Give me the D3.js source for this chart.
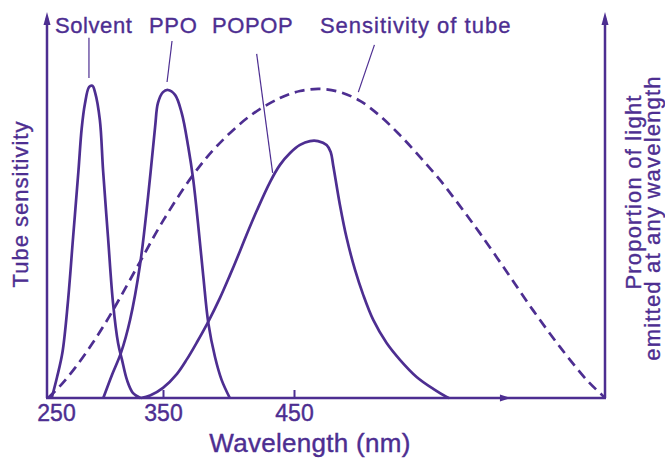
<!DOCTYPE html>
<html>
<head>
<meta charset="utf-8">
<script src="https://cdn.jsdelivr.net/npm/d3@7"></script>
<style>
  html, body { margin: 0; padding: 0; background: #fff; }
  svg { display: block; }
  text { font-family: "Liberation Sans", Arial, Helvetica, sans-serif; }
</style>
</head>
<body>
<svg id="chart"></svg>
<script>
// emission spectra: [wavelength nm, relative intensity]
const solvent = [[246, 0], [251, 6], [256, 13], [261, 27], [266, 46], [271, 65], [274, 77], [277, 84],
  [281, 88.9], [284, 89.2], [286.5, 87.3], [291, 79.4], [294, 65], [298.6, 46], [303.3, 27.1], [308, 15.7],
  [311.7, 10.9], [316.4, 5.1], [322, 1.4], [329, 0]];

const ppo = [[294.2, 0], [302.3, 6.6], [310.7, 12.9], [319.2, 22.3], [328.5, 38], [336, 57.4], [342.6, 77.4],
  [345.3, 84.3], [350, 87.4], [353.8, 88], [359.2, 86.6], [364.3, 81.4], [369.3, 71.7], [373.1, 62.3],
  [377, 48.9], [380.8, 34.6], [384.6, 21.4], [389.7, 11.7], [394.8, 5.1], [401, 0]];

const popop = [[329.4, 0], [337.9, 0.7], [350, 2.9], [360.7, 6.9], [368.3, 11.1], [376, 16], [384.4, 21.7],
  [393.5, 28.6], [401.1, 35.1], [408.8, 42], [414.1, 46.9], [421.8, 53.7], [431.7, 61.7], [439.3, 66.6],
  [447, 70], [454.6, 72.3], [462.2, 73.4], [468.3, 73.4], [474.9, 72.3], [478, 70.3], [480, 66.3],
  [485.1, 55.1], [490.2, 45.7], [496.6, 36.6], [502.9, 29.4], [510.5, 22.3], [520.7, 15.7], [530.9, 10.9],
  [543.6, 6], [556.3, 2.6], [566.5, 0.3], [568.3, 0]];

// spectral sensitivity of the photomultiplier tube (dashed)
const tube = [[242.5, 0], [253.7, 3.4], [267.8, 8.6], [283.6, 15.4], [296.7, 21.7], [309.8, 28.6],
  [328.5, 38.9], [350, 50.6], [372.9, 63.7], [391.2, 72], [416.4, 80.6], [439.3, 85.7], [454.6, 87.7],
  [469.8, 88.3], [485.1, 87.4], [500.4, 84.9], [515.6, 80.6], [530.9, 75.1], [546.1, 68.9], [561.4, 62.3],
  [576.6, 54.9], [591.9, 47.1], [612.5, 36], [632.4, 25.1], [653, 14.6], [673.6, 5.1], [685.8, 0.6],
  [687.3, 0]];

const tickValues = [250, 350, 450];
const labelNames = ["Solvent", "PPO", "POPOP", "Sensitivity of tube"];

const width = 665;
const height = 459;
const color = "#4d2e91";
const plotLeft = 47, plotRight = 605, plotBottom = 398, plotTop = 12;

const svg = d3.select("#chart")
    .attr("width", width)
    .attr("height", height);

// the printed axis is not evenly spaced, so use a piecewise linear scale
const x = d3.scaleLinear()
    .domain([250, 350, 450])
    .range([56, 163, 294]);

const y = d3.scaleLinear()
    .domain([0, 110])
    .range([plotBottom, 13]);

// axes frame
const axisW = 2.5;
svg.append("line")
    .attr("x1", plotLeft).attr("y1", plotBottom)
    .attr("x2", plotLeft).attr("y2", plotTop + 6)
    .attr("stroke", color).attr("stroke-width", axisW);
svg.append("line")
    .attr("x1", plotRight).attr("y1", plotBottom)
    .attr("x2", plotRight).attr("y2", plotTop + 6)
    .attr("stroke", color).attr("stroke-width", axisW);
svg.append("line")
    .attr("x1", plotLeft - 1).attr("y1", plotBottom)
    .attr("x2", plotRight + 1).attr("y2", plotBottom)
    .attr("stroke", color).attr("stroke-width", axisW);

// arrow heads
[plotLeft, plotRight].forEach(function (px) {
    svg.append("path")
        .attr("d", `M${px - 3.5},${plotTop + 13} L${px},${plotTop} L${px + 3.5},${plotTop + 13} Z`)
        .attr("fill", color);
});
const midArrow = plotLeft + (plotRight - plotLeft) * 0.826;
svg.append("path")
    .attr("d", `M${midArrow - 8},${plotBottom - 3.5} L${midArrow + 3},${plotBottom} L${midArrow - 8},${plotBottom + 3.5} Z`)
    .attr("fill", color);

// small upward ticks
const tickMarks = svg.append("g")
    .attr("transform", `translate(0,${plotBottom})`)
    .call(d3.axisTop(x).tickValues(tickValues.slice(1)).tickSize(8).tickFormat(""));
tickMarks.select(".domain").remove();
tickMarks.selectAll("line").attr("stroke", color).attr("stroke-width", 2);

// tick labels
const tickLabels = svg.append("g")
    .attr("transform", `translate(0,${plotBottom})`)
    .attr("color", color)
    .call(d3.axisBottom(x).tickValues(tickValues).tickSize(0).tickPadding(7).tickFormat(d3.format("d")));
tickLabels.select(".domain").remove();
tickLabels.selectAll("text")
    .attr("font-size", 23)
    .attr("font-family", "'Liberation Sans', Arial, sans-serif")
    .attr("stroke", color)
    .attr("stroke-width", 0.4);

// curves
const line = d3.line()
    .x(d => x(d[0]))
    .y(d => y(d[1]))
    .curve(d3.curveCatmullRom.alpha(0.5));

[solvent, ppo, popop].forEach(function (series) {
    svg.append("path")
        .datum(series)
        .attr("d", line)
        .attr("fill", "none")
        .attr("stroke", color)
        .attr("stroke-width", 2.7)
        .attr("stroke-linejoin", "round");
});

svg.append("path")
    .datum(tube)
    .attr("d", line)
    .attr("fill", "none")
    .attr("stroke", color)
    .attr("stroke-width", 2.7)
    .attr("stroke-dasharray", "10,6");

// curve names with thin leader lines (data units)
const annotations = [
    { text: labelNames[0], tx: 249, ty: 104.3, from: [280.8, 102.9], to: [280.8, 91.4] },
    { text: labelNames[1], tx: 337, ty: 104.3, from: [356.9, 102], to: [353.1, 90.3] },
    { text: labelNames[2], tx: 387.4, ty: 104.3, from: [421.5, 98.3], to: [433.7, 64.3] },
    { text: labelNames[3], tx: 469.8, ty: 104.3, from: [511.4, 100.9], to: [499.1, 87.4] }
];

svg.selectAll(".leader")
    .data(annotations)
    .enter()
    .append("line")
    .attr("class", "leader")
    .attr("x1", d => x(d.from[0]))
    .attr("y1", d => y(d.from[1]))
    .attr("x2", d => x(d.to[0]))
    .attr("y2", d => y(d.to[1]))
    .attr("stroke", color)
    .attr("stroke-width", 1.2);

svg.selectAll(".name")
    .data(annotations)
    .enter()
    .append("text")
    .attr("class", "name")
    .attr("x", d => x(d.tx))
    .attr("y", d => y(d.ty))
    .attr("fill", color)
    .attr("stroke", color)
    .attr("stroke-width", 0.35)
    .attr("font-size", 22)
    .attr("letter-spacing", d => d.text.length > 10 ? 1 : 0.6)
    .text(d => d.text);

// axis titles
svg.append("text")
    .attr("x", 310)
    .attr("y", 452)
    .attr("text-anchor", "middle")
    .attr("fill", color)
    .attr("stroke", color)
    .attr("stroke-width", 0.4)
    .attr("font-size", 26)
    .attr("letter-spacing", 0.3)
    .text("Wavelength (nm)");

svg.append("text")
    .attr("transform", "translate(28,204) rotate(-90)")
    .attr("text-anchor", "middle")
    .attr("fill", color)
    .attr("stroke", color)
    .attr("stroke-width", 0.35)
    .attr("font-size", 22)
    .attr("letter-spacing", 1)
    .text("Tube sensitivity");

svg.append("text")
    .attr("transform", "translate(641,192) rotate(-90)")
    .attr("text-anchor", "middle")
    .attr("fill", color)
    .attr("stroke", color)
    .attr("stroke-width", 0.35)
    .attr("font-size", 22)
    .attr("letter-spacing", 1.2)
    .text("Proportion of light");

svg.append("text")
    .attr("transform", "translate(660,218) rotate(-90)")
    .attr("text-anchor", "middle")
    .attr("fill", color)
    .attr("stroke", color)
    .attr("stroke-width", 0.35)
    .attr("font-size", 22)
    .attr("letter-spacing", 1.2)
    .text("emitted at any wavelength");
</script>
</body>
</html>
